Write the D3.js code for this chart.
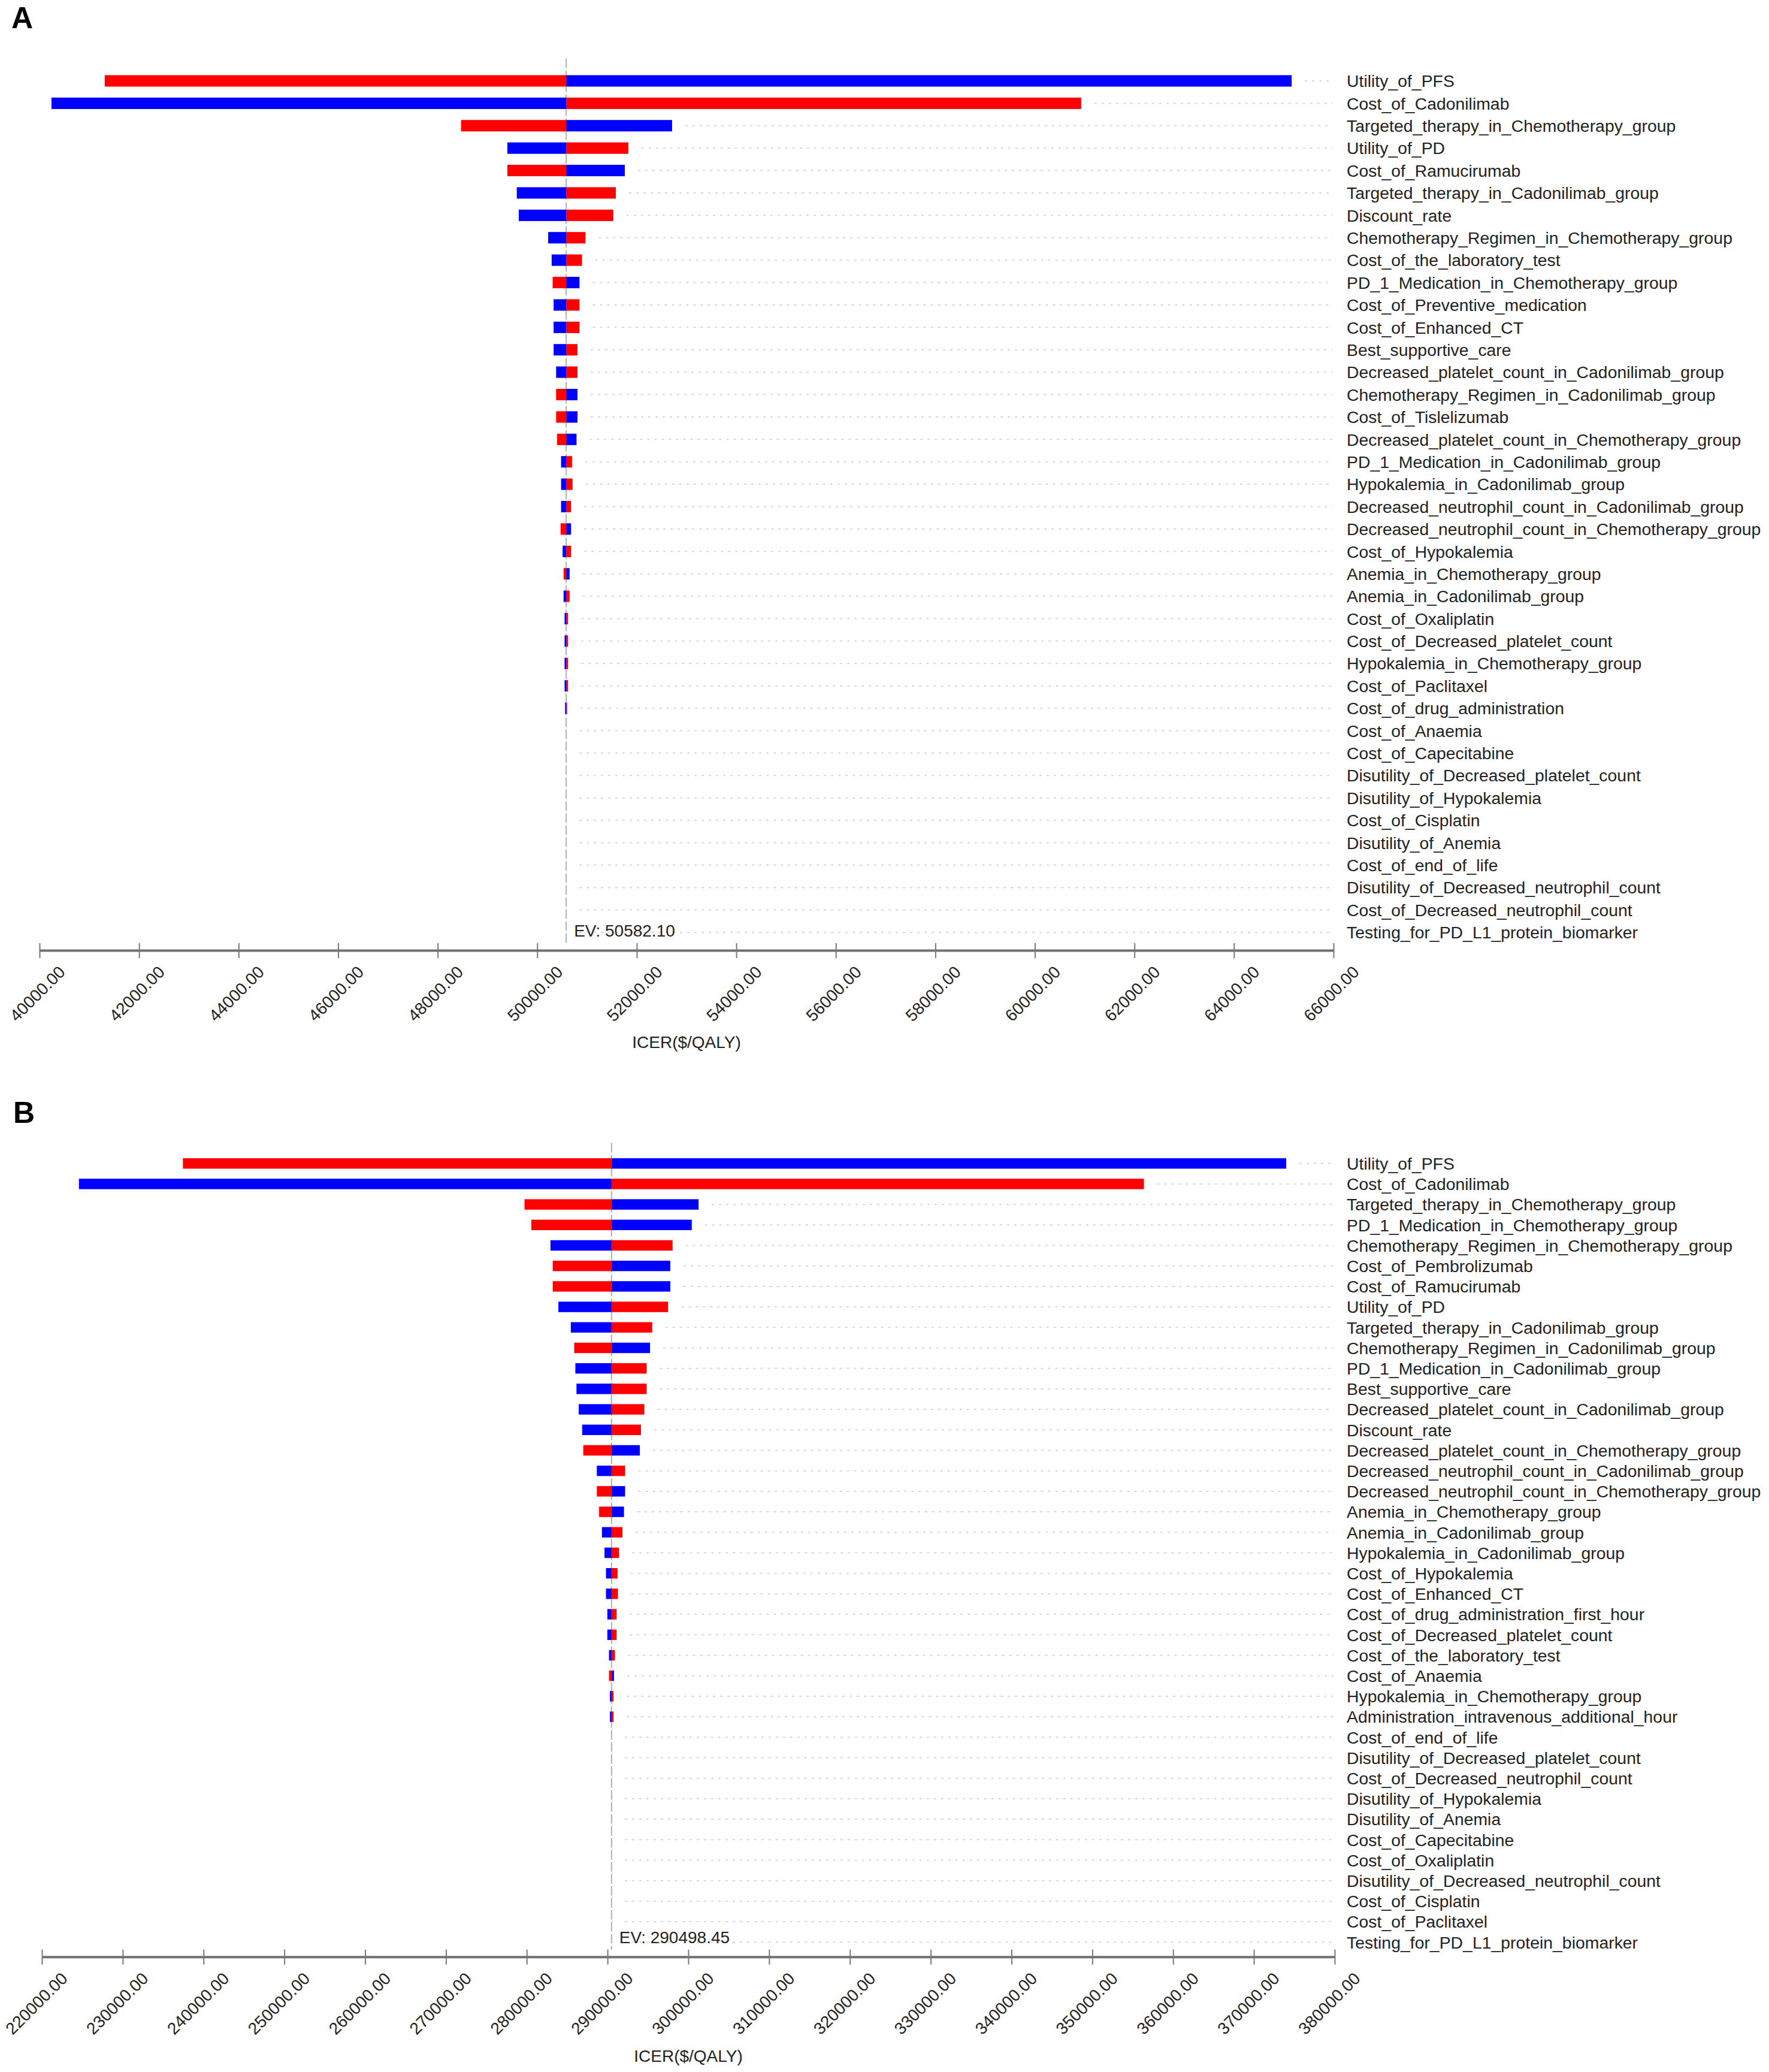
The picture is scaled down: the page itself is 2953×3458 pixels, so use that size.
<!DOCTYPE html>
<html>
<head>
<meta charset="utf-8">
<script src="https://cdn.jsdelivr.net/npm/d3@7/dist/d3.min.js"></script>
<style>
  body { margin: 0; background: #fff; }
  text { font-family: "Liberation Sans", Arial, sans-serif; fill: #222; }
</style>
</head>
<body>
<div id="chart"></div>
<script>
// ---- panel A data (ICER at low input = blue, at high input = red) ----
var evA = 50582.10;
var labelsA = ["Utility_of_PFS", "Cost_of_Cadonilimab", "Targeted_therapy_in_Chemotherapy_group",
  "Utility_of_PD", "Cost_of_Ramucirumab", "Targeted_therapy_in_Cadonilimab_group", "Discount_rate",
  "Chemotherapy_Regimen_in_Chemotherapy_group", "Cost_of_the_laboratory_test",
  "PD_1_Medication_in_Chemotherapy_group", "Cost_of_Preventive_medication", "Cost_of_Enhanced_CT",
  "Best_supportive_care", "Decreased_platelet_count_in_Cadonilimab_group",
  "Chemotherapy_Regimen_in_Cadonilimab_group", "Cost_of_Tislelizumab",
  "Decreased_platelet_count_in_Chemotherapy_group", "PD_1_Medication_in_Cadonilimab_group",
  "Hypokalemia_in_Cadonilimab_group", "Decreased_neutrophil_count_in_Cadonilimab_group",
  "Decreased_neutrophil_count_in_Chemotherapy_group", "Cost_of_Hypokalemia",
  "Anemia_in_Chemotherapy_group", "Anemia_in_Cadonilimab_group", "Cost_of_Oxaliplatin",
  "Cost_of_Decreased_platelet_count", "Hypokalemia_in_Chemotherapy_group", "Cost_of_Paclitaxel",
  "Cost_of_drug_administration", "Cost_of_Anaemia", "Cost_of_Capecitabine",
  "Disutility_of_Decreased_platelet_count", "Disutility_of_Hypokalemia", "Cost_of_Cisplatin",
  "Disutility_of_Anemia", "Cost_of_end_of_life", "Disutility_of_Decreased_neutrophil_count",
  "Cost_of_Decreased_neutrophil_count", "Testing_for_PD_L1_protein_biomarker"];
var blueA = [65160, 40240, 52710, 49400, 51760, 49590, 49630, 50220, 50290, 50850,
  50330, 50330, 50330, 50380, 50810, 50810, 50790, 50480, 50480, 50480,
  50680, 50510, 50650, 50530, 50550, 50550, 50550, 50550, 50560,
  50582.10, 50582.10, 50582.10, 50582.10, 50582.10, 50582.10, 50582.10, 50582.10, 50582.10, 50582.10];
var redA = [41310, 60930, 48470, 51830, 49400, 51580, 51530, 50970, 50900, 50310,
  50850, 50850, 50810, 50810, 50380, 50380, 50400, 50700, 50710, 50680,
  50470, 50680, 50530, 50650, 50620, 50620, 50620, 50620, 50600,
  50582.10, 50582.10, 50582.10, 50582.10, 50582.10, 50582.10, 50582.10, 50582.10, 50582.10, 50582.10];
var domainA = [40000, 66000];
var tickStepA = 2000;

// ---- panel B data ----
var evB = 290498.45;
var labelsB = ["Utility_of_PFS", "Cost_of_Cadonilimab", "Targeted_therapy_in_Chemotherapy_group",
  "PD_1_Medication_in_Chemotherapy_group", "Chemotherapy_Regimen_in_Chemotherapy_group",
  "Cost_of_Pembrolizumab", "Cost_of_Ramucirumab", "Utility_of_PD", "Targeted_therapy_in_Cadonilimab_group",
  "Chemotherapy_Regimen_in_Cadonilimab_group", "PD_1_Medication_in_Cadonilimab_group",
  "Best_supportive_care", "Decreased_platelet_count_in_Cadonilimab_group", "Discount_rate",
  "Decreased_platelet_count_in_Chemotherapy_group", "Decreased_neutrophil_count_in_Cadonilimab_group",
  "Decreased_neutrophil_count_in_Chemotherapy_group", "Anemia_in_Chemotherapy_group",
  "Anemia_in_Cadonilimab_group", "Hypokalemia_in_Cadonilimab_group", "Cost_of_Hypokalemia",
  "Cost_of_Enhanced_CT", "Cost_of_drug_administration_first_hour", "Cost_of_Decreased_platelet_count",
  "Cost_of_the_laboratory_test", "Cost_of_Anaemia", "Hypokalemia_in_Chemotherapy_group",
  "Administration_intravenous_additional_hour", "Cost_of_end_of_life",
  "Disutility_of_Decreased_platelet_count", "Cost_of_Decreased_neutrophil_count",
  "Disutility_of_Hypokalemia", "Disutility_of_Anemia", "Cost_of_Capecitabine", "Cost_of_Oxaliplatin",
  "Disutility_of_Decreased_neutrophil_count", "Cost_of_Cisplatin", "Cost_of_Paclitaxel",
  "Testing_for_PD_L1_protein_biomarker"];
var blueB = [374000, 224580, 301270, 300430, 282940, 297770, 297770, 283920, 285460, 295260,
  286020, 286160, 286440, 286860, 294000, 288680, 292180, 292040, 289310, 289630,
  289810, 289810, 289980, 289980, 290180, 290800, 290300, 290300,
  290498.45, 290498.45, 290498.45, 290498.45, 290498.45, 290498.45, 290498.45, 290498.45,
  290498.45, 290498.45, 290498.45];
var redB = [237450, 356390, 279730, 280570, 298050, 283220, 283220, 297490, 295530, 285880,
  294840, 294840, 294560, 294140, 287000, 292180, 288680, 288960, 291840, 291420,
  291240, 291290, 291120, 291120, 290920, 290180, 290750, 290750,
  290498.45, 290498.45, 290498.45, 290498.45, 290498.45, 290498.45, 290498.45, 290498.45,
  290498.45, 290498.45, 290498.45];
var domainB = [220000, 380000];
var tickStepB = 10000;

var svg = d3.select("#chart").append("svg")
  .attr("width", 2953)
  .attr("height", 3458);

function drawTornado(cfg, letter, labels, blue, red, ev, domain, step) {
  var g = svg.append("g");

  g.append("text")
    .attr("x", cfg.letterX).attr("y", cfg.letterY)
    .style("font-size", "50px").style("font-weight", "bold").style("fill", "#000")
    .text(letter);

  var x = d3.scaleLinear().domain(domain).range([cfg.x0, cfg.x1]);
  var y = d3.scalePoint().domain(labels).range([cfg.rowTop, cfg.rowBottom]);
  var barH = y.step() * 0.51;

  var rows = labels.map(function(l, i) { return {label: l, blue: blue[i], red: red[i]}; });

  // dotted guide lines from bar end to label
  g.selectAll("line.guide").data(rows).enter().append("line")
    .attr("x1", d => x(Math.max(d.blue, d.red, ev)) + 22)
    .attr("x2", cfg.x1 - 2)
    .attr("y1", d => y(d.label)).attr("y2", d => y(d.label))
    .style("stroke", "#d6d6d6").style("stroke-width", 2)
    .style("stroke-dasharray", "4,8");

  // EV reference line
  g.append("line")
    .attr("x1", x(ev)).attr("x2", x(ev))
    .attr("y1", cfg.rowTop - y.step()).attr("y2", cfg.axisY - 12)
    .style("stroke", "#b0b0b0").style("stroke-width", 2)
    .style("stroke-dasharray", "16,4");

  // bars
  g.selectAll("rect.blue").data(rows).enter().append("rect")
    .attr("x", d => Math.min(x(d.blue), x(ev)))
    .attr("width", d => Math.abs(x(d.blue) - x(ev)))
    .attr("y", d => y(d.label) - barH / 2)
    .attr("height", barH)
    .style("fill", "#0000ff");
  g.selectAll("rect.red").data(rows).enter().append("rect")
    .attr("x", d => Math.min(x(d.red), x(ev)))
    .attr("width", d => Math.abs(x(d.red) - x(ev)))
    .attr("y", d => y(d.label) - barH / 2)
    .attr("height", barH)
    .style("fill", "#ff0000");

  // row labels
  g.selectAll("text.lab").data(rows).enter().append("text")
    .attr("x", cfg.labelX)
    .attr("y", d => y(d.label))
    .attr("dy", "0.36em")
    .style("font-size", "28.4px")
    .text(d => d.label);

  g.append("text")
    .attr("x", x(ev) + 13).attr("y", cfg.evY)
    .style("font-size", "28px")
    .text("EV: " + d3.format(".2f")(ev));

  // x axis
  var ax = g.append("g")
    .attr("transform", "translate(0," + cfg.axisY + ")")
    .call(d3.axisBottom(x)
      .tickValues(d3.range(domain[0], domain[1] + 1, step))
      .tickFormat(d3.format(".2f"))
      .tickSizeOuter(0));
  ax.select(".domain").style("stroke", "#707070").style("stroke-width", 4);
  ax.selectAll(".tick line")
    .attr("y1", -12).attr("y2", 13)
    .style("stroke", "#777").style("stroke-width", 2);
  ax.selectAll(".tick text")
    .attr("x", 0).attr("y", 0).attr("dy", 0)
    .attr("text-anchor", "end")
    .attr("transform", "translate(44,38) rotate(-45)")
    .style("font-size", "28px")
    .style("font-family", "'Liberation Sans', Arial, sans-serif")
    .style("fill", "#222");

  g.append("text")
    .attr("x", (cfg.x0 + cfg.x1) / 2).attr("y", cfg.icerY)
    .attr("text-anchor", "middle")
    .style("font-size", "28px")
    .text("ICER($/QALY)");
}

drawTornado({letterX: 19, letterY: 47, x0: 66, x1: 2226, rowTop: 135, rowBottom: 1556,
  axisY: 1586, labelX: 2248, evY: 1563, icerY: 1749},
  "A", labelsA, blueA, redA, evA, domainA, tickStepA);

drawTornado({letterX: 22, letterY: 1874, x0: 70, x1: 2228, rowTop: 1941.7, rowBottom: 3241.3,
  axisY: 3265.7, labelX: 2248, evY: 3243, icerY: 3441},
  "B", labelsB, blueB, redB, evB, domainB, tickStepB);
</script>
</body>
</html>
